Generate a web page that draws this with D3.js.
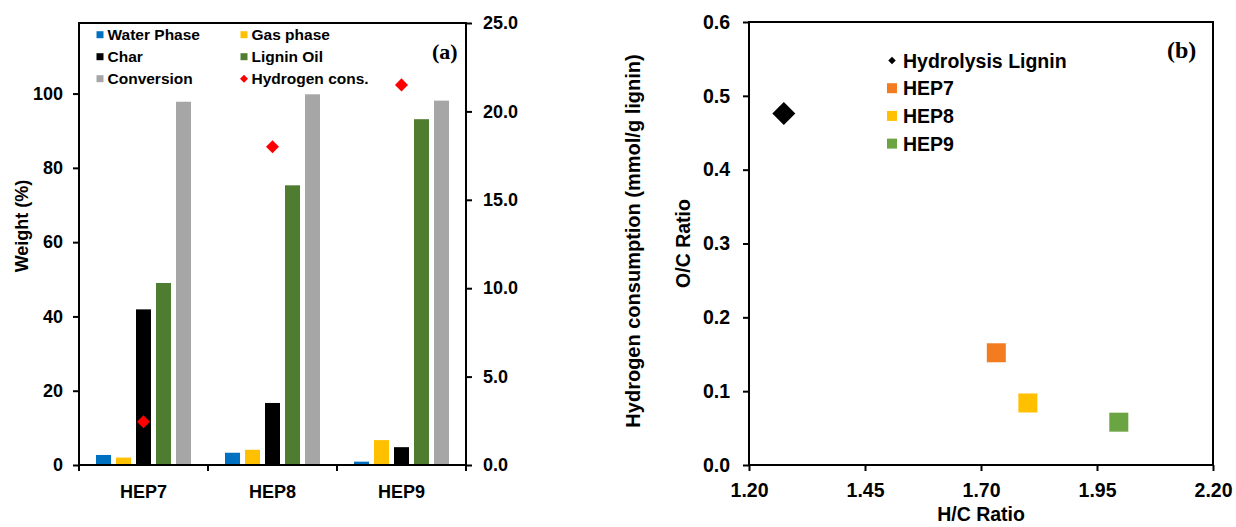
<!DOCTYPE html>
<html>
<head>
<meta charset="utf-8">
<script src="https://cdn.jsdelivr.net/npm/d3@7"></script>
<style>
  html, body { margin: 0; padding: 0; background: #fff; }
  svg { display: block; font-family: "Liberation Sans", Arial, sans-serif; }
  .axis text { font-weight: bold; fill: #000; }
  .axis line { stroke: #000; stroke-width: 2; }
  .axis .domain { display: none; }
</style>
</head>
<body>
<svg id="chart" width="1236" height="527"></svg>
<script>
// ---- panel (a) data ----
const categories = ["HEP7", "HEP8", "HEP9"];
const seriesNames = ["Water Phase", "Gas phase", "Char", "Lignin Oil", "Conversion"];
const seriesColours = ["#0070C0", "#FFC000", "#000000", "#4E7D2F", "#A6A6A6"];
const waterPhase = [2.7, 3.3, 0.9];
const gasPhase   = [2.0, 4.1, 6.7];
const charYield  = [41.9, 16.7, 4.8];
const ligninOil  = [49.0, 75.3, 93.1];
const conversion = [97.8, 99.8, 98.1];
const hydrogenCons = [2.45, 18.0, 21.5];
const weightTicks = [0, 20, 40, 60, 80, 100];
const hydrogenTicks = [0, 5, 10, 15, 20, 25];

// ---- panel (b) data ----
const samples = ["Hydrolysis Lignin", "HEP7", "HEP8", "HEP9"];
const sampleColours = ["#000000", "#F47C20", "#FFC000", "#6BA443"];
const hcRatio = [1.275, 1.733, 1.801, 1.997];
const ocRatio = [0.476, 0.152, 0.084, 0.058];
const hcTicks = [1.20, 1.45, 1.70, 1.95, 2.20];
const ocTicks = [0, 0.1, 0.2, 0.3, 0.4, 0.5, 0.6];

const svg = d3.select("#chart");
const seriesValues = [waterPhase, gasPhase, charYield, ligninOil, conversion];

// ------- PANEL A -------
const A = { left: 79, right: 466, top: 23, bottom: 465 };

const x0 = d3.scaleBand().domain(categories).range([A.left, A.right]).padding(0);
const x1 = d3.scaleBand().domain(seriesNames).range([0, x0.bandwidth()])
  .paddingInner(0.25).paddingOuter(0.85);
const yW = d3.scaleLinear().domain([0, 119]).range([A.bottom, A.top]);
const yH = d3.scaleLinear().domain([0, 25]).range([A.bottom, A.top]);

const bars = [];
categories.forEach((c, ci) => {
  seriesNames.forEach((s, si) => {
    bars.push({ cat: c, series: s, colour: seriesColours[si], value: seriesValues[si][ci] });
  });
});

svg.append("g").selectAll("rect")
  .data(bars)
  .enter()
  .append("rect")
  .attr("x", d => x0(d.cat) + x1(d.series))
  .attr("width", x1.bandwidth())
  .attr("y", d => yW(d.value))
  .attr("height", d => yW(0) - yW(d.value))
  .attr("fill", d => d.colour);

// hydrogen consumption diamonds
const diamond = size => d3.symbol(d3.symbolSquare, size)();
svg.append("g").selectAll("path")
  .data(categories)
  .enter()
  .append("path")
  .attr("d", diamond(85))
  .attr("fill", "#FF0000")
  .attr("transform", (d, i) =>
    `translate(${x0(d) + x0.bandwidth() / 2},${yH(hydrogenCons[i])}) rotate(45)`);

// axes
svg.append("g")
  .attr("class", "axis")
  .attr("transform", `translate(${A.left},0)`)
  .call(d3.axisLeft(yW).tickValues(weightTicks).tickSize(6).tickPadding(10).tickSizeOuter(0))
  .selectAll("text").style("font-size", "18px");

svg.append("g")
  .attr("class", "axis")
  .attr("transform", `translate(${A.right},0)`)
  .call(d3.axisRight(yH).tickValues(hydrogenTicks).tickSize(6).tickPadding(11)
    .tickFormat(d3.format(".1f")).tickSizeOuter(0))
  .selectAll("text").style("font-size", "18px");

svg.append("g")
  .attr("class", "axis")
  .attr("transform", `translate(0,${A.bottom})`)
  .call(d3.axisBottom(x0).tickSize(0).tickPadding(20))
  .selectAll("text").style("font-size", "18px");

// category boundary ticks
const bounds = categories.map(c => x0(c)).concat([x0.range()[1]]);
svg.append("g").selectAll("line")
  .data(bounds)
  .enter()
  .append("line")
  .attr("x1", d => d).attr("x2", d => d)
  .attr("y1", A.bottom).attr("y2", A.bottom + 6)
  .attr("stroke", "#000").attr("stroke-width", 2);

svg.append("rect")
  .attr("x", A.left).attr("y", A.top)
  .attr("width", A.right - A.left).attr("height", A.bottom - A.top)
  .attr("fill", "none").attr("stroke", "#000").attr("stroke-width", 2);

// legend (a)
const legendA = seriesNames.map((s, i) => ({ label: s, colour: seriesColours[i], type: "sq" }))
  .concat([{ label: "Hydrogen cons.", colour: "#FF0000", type: "dia" }]);
const legA = svg.append("g").selectAll("g")
  .data(legendA)
  .enter()
  .append("g")
  .attr("transform", (d, i) => `translate(${i % 2 ? 244 : 100},${34.7 + Math.floor(i / 2) * 22})`);

legA.append("path")
  .attr("d", d => d.type === "sq" ? diamond(49) : diamond(32))
  .attr("transform", d => d.type === "sq" ? null : "rotate(45)")
  .attr("fill", d => d.colour);

legA.append("text")
  .attr("x", 7.5)
  .attr("y", 5.6)
  .attr("font-size", "15.5px")
  .attr("font-weight", "bold")
  .text(d => d.label);

svg.append("text")
  .attr("x", 432).attr("y", 59)
  .attr("font-family", "'Liberation Serif', 'Times New Roman', serif")
  .attr("font-weight", "bold").attr("font-size", "22px")
  .text("(a)");

svg.append("text")
  .attr("transform", "translate(27.5,226) rotate(-90)")
  .attr("text-anchor", "middle")
  .attr("font-weight", "bold").attr("font-size", "18px")
  .text("Weight (%)");

svg.append("text")
  .attr("transform", "translate(640,241) rotate(-90)")
  .attr("text-anchor", "middle")
  .attr("font-weight", "bold").attr("font-size", "20px")
  .text("Hydrogen consumption (mmol/g lignin)");

// ------- PANEL B -------
const B = { left: 749, right: 1213, top: 22, bottom: 465 };
const xB = d3.scaleLinear().domain([1.2, 2.2]).range([B.left, B.right]);
const yB = d3.scaleLinear().domain([0, 0.6]).range([B.bottom, B.top]);

svg.append("g")
  .attr("class", "axis")
  .attr("transform", `translate(${B.left},0)`)
  .call(d3.axisLeft(yB).tickValues(ocTicks).tickSize(6).tickPadding(13)
    .tickFormat(d3.format(".1f")).tickSizeOuter(0))
  .selectAll("text").style("font-size", "19.5px");

svg.append("g")
  .attr("class", "axis")
  .attr("transform", `translate(0,${B.bottom})`)
  .call(d3.axisBottom(xB).tickValues(hcTicks).tickSize(6).tickPadding(12)
    .tickFormat(d3.format(".2f")).tickSizeOuter(0))
  .selectAll("text").style("font-size", "19.5px");

svg.append("rect")
  .attr("x", B.left).attr("y", B.top)
  .attr("width", B.right - B.left).attr("height", B.bottom - B.top)
  .attr("fill", "none").attr("stroke", "#000").attr("stroke-width", 2);

svg.append("g").selectAll("path")
  .data(samples)
  .enter()
  .append("path")
  .attr("d", (d, i) => i === 0 ? diamond(265) : diamond(361))
  .attr("fill", (d, i) => sampleColours[i])
  .attr("transform", (d, i) =>
    `translate(${xB(hcRatio[i])},${yB(ocRatio[i])})` + (i === 0 ? " rotate(45)" : ""));

// legend (b)
const legB = svg.append("g").selectAll("g")
  .data(samples)
  .enter()
  .append("g")
  .attr("transform", (d, i) => `translate(892,${60.5 + i * 27.7})`);

legB.append("path")
  .attr("d", (d, i) => i === 0 ? diamond(28) : diamond(100))
  .attr("transform", (d, i) => i === 0 ? "rotate(45)" : null)
  .attr("fill", (d, i) => sampleColours[i]);

legB.append("text")
  .attr("x", 11)
  .attr("y", 7)
  .attr("font-size", "19.5px")
  .attr("font-weight", "bold")
  .text(d => d);

svg.append("text")
  .attr("x", 1167).attr("y", 58)
  .attr("font-family", "'Liberation Serif', 'Times New Roman', serif")
  .attr("font-weight", "bold").attr("font-size", "24px")
  .text("(b)");

svg.append("text")
  .attr("transform", "translate(690,243.5) rotate(-90)")
  .attr("text-anchor", "middle")
  .attr("font-weight", "bold").attr("font-size", "19.5px")
  .text("O/C Ratio");

svg.append("text")
  .attr("x", (B.left + B.right) / 2).attr("y", 521)
  .attr("text-anchor", "middle")
  .attr("font-weight", "bold").attr("font-size", "19.5px")
  .text("H/C Ratio");
</script>
</body>
</html>
